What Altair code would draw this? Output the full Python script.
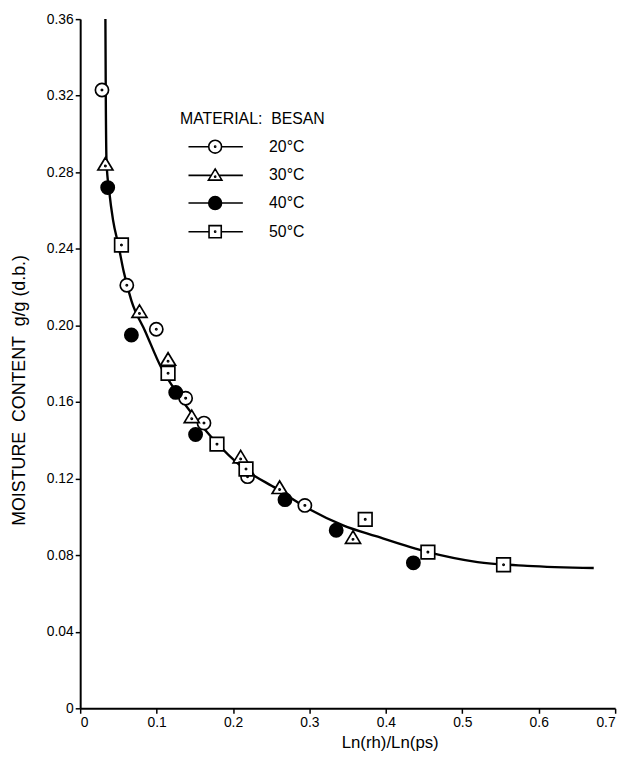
import altair as alt
import pandas as pd

# ---- data ----
series_names = ["20°C", "30°C", "40°C", "50°C"]

x20 = [0.0285, 0.061, 0.0996, 0.138, 0.162, 0.219, 0.294]
y20 = [0.323, 0.221, 0.198, 0.162, 0.149, 0.121, 0.106]

x30 = [0.033, 0.0776, 0.115, 0.146, 0.210, 0.261, 0.357]
y30 = [0.284, 0.207, 0.182, 0.152, 0.131, 0.115, 0.089]

x40 = [0.036, 0.067, 0.125, 0.151, 0.268, 0.335, 0.436]
y40 = [0.272, 0.195, 0.165, 0.143, 0.109, 0.093, 0.076]

x50 = [0.054, 0.115, 0.179, 0.217, 0.373, 0.455, 0.554]
y50 = [0.242, 0.175, 0.138, 0.125, 0.0987, 0.0816, 0.075]

# fitted curve
curve_x = [0.0330, 0.0335, 0.0345, 0.0380, 0.0430, 0.0500, 0.0570, 0.0670,
           0.0850, 0.1060, 0.1280, 0.1710, 0.2150, 0.2570, 0.3000, 0.3440,
           0.3870, 0.4550, 0.5200, 0.5850, 0.6720]
curve_y = [0.360, 0.320, 0.285, 0.270, 0.255, 0.242, 0.228, 0.213,
           0.197, 0.178, 0.164, 0.142, 0.125, 0.1147, 0.104, 0.0956,
           0.0899, 0.0816, 0.0764, 0.0744, 0.0733]

x_ticks = [0, 0.1, 0.2, 0.3, 0.4, 0.5, 0.6, 0.7]
y_ticks = [0, 0.04, 0.08, 0.12, 0.16, 0.20, 0.24, 0.28, 0.32, 0.36]

legend_title = "MATERIAL:\u00a0\u00a0BESAN"
x_title = "Ln(rh)/Ln(ps)"
y_title = "MOISTURE\u00a0\u00a0CONTENT\u00a0\u00a0g/g (d.b.)"

# ---- tables ----
rows = []
for name, xs, ys in zip(series_names, [x20, x30, x40, x50], [y20, y30, y40, y50]):
    for a, b in zip(xs, ys):
        rows.append({"x": a, "y": b, "series": name})
points = pd.DataFrame(rows)
curve = pd.DataFrame({"x": curve_x, "y": curve_y})

FONT = "Liberation Sans"

# marker symbols (unit box -1..1), each open one with a centre dot
dot = lambda cx, cy: (f"M{cx-0.09:.2f},{cy:.2f}A0.09,0.09 0 1,1 {cx+0.09:.2f},{cy:.2f}"
                      f"A0.09,0.09 0 1,1 {cx-0.09:.2f},{cy:.2f}Z")
circ = lambda cx, r: (f"M{cx-r:.2f},0A{r},{r} 0 1,1 {cx+r:.2f},0A{r},{r} 0 1,1 {cx-r:.2f},0Z")
tri = lambda cx: f"M{cx:.2f},-1L{cx+1.05:.2f},0.75L{cx-1.05:.2f},0.75Z"
sq = lambda cx: (f"M{cx-0.95:.2f},-0.95L{cx+0.95:.2f},-0.95L{cx+0.95:.2f},0.95"
                 f"L{cx-0.95:.2f},0.95Z")

plot_shapes = [circ(0, 0.92) + dot(0, 0), tri(0) + dot(0, 0.2), circ(0, 0.92), sq(0) + dot(0, 0)]

c = 4.23
L0, L1 = 0.08, 8.54
def seg(a, b):
    return f"M{L0:.2f},0L{a:.2f},0M{b:.2f},0L{L1:.2f},0"
legend_shapes = [
    seg(c - 1, c + 1) + circ(c, 1) + dot(c, 0),
    seg(c - 0.6, c + 0.6) + tri(c) + dot(c, 0.2),
    seg(c - 1, c + 1) + circ(c, 1),
    seg(c - 0.95, c + 0.95) + sq(c) + dot(c, 0),
]
fills = ["white", "white", "black", "white"]
strokes = ["black", "black", "black", "black"]

xscale = alt.Scale(domain=[0, 0.7], nice=False, zero=False)
yscale = alt.Scale(domain=[0, 0.36], nice=False, zero=False)

xaxis = alt.Axis(values=x_ticks, labelExpr="datum.value == 0 ? '0' : format(datum.value, '.1f')",
                 title=x_title, titleX=313, titleY=35, titleBaseline="middle",
                 titleFontSize=17, titleFont=FONT, titleFontWeight="normal")
yaxis = alt.Axis(values=y_ticks, labelExpr="datum.value == 0 ? '0' : format(datum.value, '.2f')",
                 title=y_title, titleX=-61, titleY=375, titleAngle=270, titleBaseline="middle",
                 titleFontSize=18, titleFont=FONT, titleFontWeight="normal")

line = alt.Chart(curve).mark_line(color="black", strokeWidth=2.4, interpolate="monotone").encode(
    x=alt.X("x:Q", scale=xscale, axis=xaxis),
    y=alt.Y("y:Q", scale=yscale, axis=yaxis),
)

marks = alt.Chart(points).mark_point(filled=True, stroke="black", strokeWidth=1.7, size=210, opacity=1).encode(
    x=alt.X("x:Q", scale=xscale),
    y=alt.Y("y:Q", scale=yscale),
    shape=alt.Shape("series:N", scale=alt.Scale(domain=series_names, range=plot_shapes), legend=None),
    fill=alt.Fill("series:N", scale=alt.Scale(domain=series_names, range=fills), legend=None),
)

leg_kw = dict(title=legend_title, orient="none", legendX=101, legendY=93,
              titleFont=FONT, titleFontSize=16, titleFontWeight="normal",
              titleColor="black", titlePadding=12,
              labelFont=FONT, labelFontSize=16, labelColor="black",
              labelOffset=74, rowPadding=9, symbolSize=169,
              symbolStrokeWidth=1.6, symbolOpacity=1)

legend_layer = alt.Chart(points).transform_filter("false").mark_point(
    filled=True, strokeWidth=1.6, size=169, opacity=1
).encode(
    x=alt.X("x:Q", scale=xscale),
    y=alt.Y("y:Q", scale=yscale),
    shape=alt.Shape("series:N", scale=alt.Scale(domain=series_names, range=legend_shapes),
                    legend=alt.Legend(**leg_kw)),
    fill=alt.Fill("series:N", scale=alt.Scale(domain=series_names, range=fills),
                  legend=alt.Legend(**leg_kw)),
    stroke=alt.Stroke("series:N", scale=alt.Scale(domain=series_names, range=strokes),
                      legend=alt.Legend(**leg_kw)),
)

chart = alt.layer(line, marks, legend_layer).resolve_scale(
    shape="independent", fill="independent", stroke="independent"
).properties(
    width=541, height=697,
    autosize=alt.AutoSizeParams(type="none"),
    padding={"left": 73, "top": 7, "right": 12, "bottom": 45},
).configure_view(stroke=None).configure_axis(
    domainColor="black", domainWidth=2, tickColor="black", tickWidth=1.5, tickSize=5,
    labelFont=FONT, labelFontSize=14, labelColor="black", labelPadding=2,
    titleColor="black", grid=False,
)

chart.save("out.html", embed_options={"renderer": "svg", "actions": False})
